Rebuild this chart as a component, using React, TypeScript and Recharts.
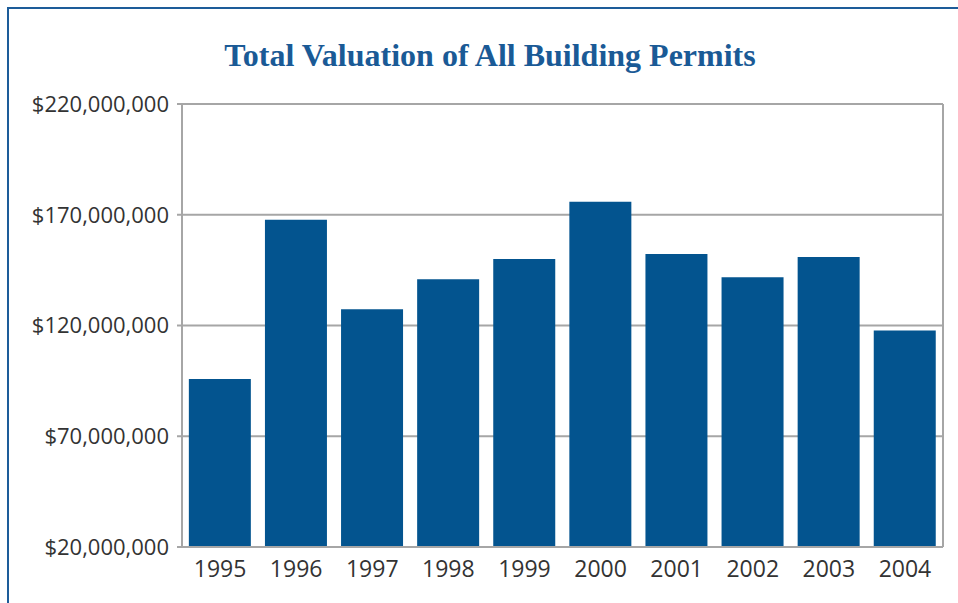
import React from 'react';
import { BarChart, Bar, XAxis, YAxis, CartesianGrid } from 'recharts';

const years = ['1995', '1996', '1997', '1998', '1999', '2000', '2001', '2002', '2003', '2004'];
const valuations = [
  95900000, 167700000, 127300000, 140900000, 150000000,
  175900000, 152300000, 141800000, 150900000, 117700000,
];
const yTicks = [20000000, 70000000, 120000000, 170000000, 220000000];

const data = years.map((year, i) => ({ year, value: valuations[i] }));

const frameBlue = '#1d5c99';
const barBlue = '#03548f';
const gridGray = '#a6a6a6';
const labelColor = '#333333';

const money = (v: number) => '$' + v.toLocaleString('en-US');

export default function App() {
  return (
    <div style={{ position: 'absolute', left: 0, top: 0, width: 958, height: 603, background: '#fff', overflow: 'hidden' }}>
      {/* frame: top and left rule */}
      <div style={{ position: 'absolute', left: 7, top: 7, width: 951, height: 2, background: frameBlue }} />
      <div style={{ position: 'absolute', left: 7, top: 7, width: 2, height: 596, background: frameBlue }} />

      <div
        style={{
          position: 'absolute',
          top: 37,
          left: 0,
          width: 980,
          textAlign: 'center',
          fontFamily: '"Liberation Serif", serif',
          fontWeight: 'bold',
          fontSize: 32,
          color: '#1a5a96',
        }}
      >
        Total Valuation of All Building Permits
      </div>

      <div style={{ position: 'absolute', left: 0, top: 0 }}>
        <BarChart
          width={958}
          height={603}
          data={data}
          margin={{ top: 104, right: 15, bottom: 0, left: 0 }}
          barCategoryGap="9%"
        >
          <CartesianGrid
            stroke={gridGray}
            strokeWidth={2}
            verticalCoordinatesGenerator={({ offset }: any) => [offset.left + offset.width]}
          />
          <XAxis
            dataKey="year"
            height={56}
            tickLine={false}
            axisLine={{ stroke: gridGray, strokeWidth: 2 }}
            tick={{ fill: labelColor, fontSize: 23, fontFamily: '"Open Sans", sans-serif' }}
            tickMargin={8}
            interval={0}
          />
          <YAxis
            width={182}
            domain={[20000000, 220000000]}
            ticks={yTicks}
            tickFormatter={money}
            tickSize={5}
            tickMargin={8}
            tickLine={{ stroke: gridGray, strokeWidth: 2 }}
            axisLine={{ stroke: gridGray, strokeWidth: 2 }}
            tick={{ fill: labelColor, fontSize: 22, fontFamily: '"Open Sans", sans-serif' }}
          />
          <Bar dataKey="value" fill={barBlue} isAnimationActive={false} />
        </BarChart>
      </div>
    </div>
  );
}
